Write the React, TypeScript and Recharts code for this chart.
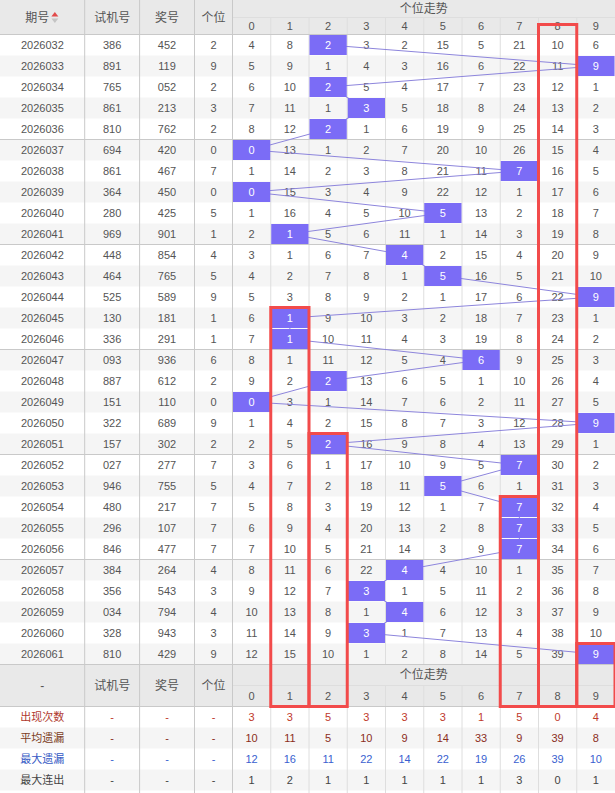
import { ScatterChart, XAxis, YAxis, Scatter, ReferenceArea, ReferenceLine } from "recharts";

const periods = [
  "2026032", "2026033", "2026034", "2026035", "2026036", "2026037", "2026038", "2026039", "2026040", "2026041",
  "2026042", "2026043", "2026044", "2026045", "2026046", "2026047", "2026048", "2026049", "2026050", "2026051",
  "2026052", "2026053", "2026054", "2026055", "2026056", "2026057", "2026058", "2026059", "2026060", "2026061",
];
const trialNums = [
  "386", "891", "765", "861", "810", "694", "861", "364", "280", "969",
  "448", "464", "525", "130", "336", "093", "887", "151", "322", "157",
  "027", "946", "480", "296", "846", "384", "356", "034", "328", "810",
];
const drawNums = [
  "452", "119", "052", "213", "762", "420", "467", "450", "425", "901",
  "854", "765", "589", "181", "291", "936", "612", "110", "689", "302",
  "277", "755", "217", "107", "477", "264", "543", "794", "943", "429",
];
const unitDigits = [2, 9, 2, 3, 2, 0, 7, 0, 5, 1, 4, 5, 9, 1, 1, 6, 2, 0, 9, 2, 7, 5, 7, 7, 7, 4, 3, 4, 3, 9];
// missing counts per digit 0-9 (the hit cell shows the digit itself)
const missRows = [
  [4, 8, 2, 3, 2, 15, 5, 21, 10, 6],
  [5, 9, 1, 4, 3, 16, 6, 22, 11, 9],
  [6, 10, 2, 5, 4, 17, 7, 23, 12, 1],
  [7, 11, 1, 3, 5, 18, 8, 24, 13, 2],
  [8, 12, 2, 1, 6, 19, 9, 25, 14, 3],
  [0, 13, 1, 2, 7, 20, 10, 26, 15, 4],
  [1, 14, 2, 3, 8, 21, 11, 7, 16, 5],
  [0, 15, 3, 4, 9, 22, 12, 1, 17, 6],
  [1, 16, 4, 5, 10, 5, 13, 2, 18, 7],
  [2, 1, 5, 6, 11, 1, 14, 3, 19, 8],
  [3, 1, 6, 7, 4, 2, 15, 4, 20, 9],
  [4, 2, 7, 8, 1, 5, 16, 5, 21, 10],
  [5, 3, 8, 9, 2, 1, 17, 6, 22, 9],
  [6, 1, 9, 10, 3, 2, 18, 7, 23, 1],
  [7, 1, 10, 11, 4, 3, 19, 8, 24, 2],
  [8, 1, 11, 12, 5, 4, 6, 9, 25, 3],
  [9, 2, 2, 13, 6, 5, 1, 10, 26, 4],
  [0, 3, 1, 14, 7, 6, 2, 11, 27, 5],
  [1, 4, 2, 15, 8, 7, 3, 12, 28, 9],
  [2, 5, 2, 16, 9, 8, 4, 13, 29, 1],
  [3, 6, 1, 17, 10, 9, 5, 7, 30, 2],
  [4, 7, 2, 18, 11, 5, 6, 1, 31, 3],
  [5, 8, 3, 19, 12, 1, 7, 7, 32, 4],
  [6, 9, 4, 20, 13, 2, 8, 7, 33, 5],
  [7, 10, 5, 21, 14, 3, 9, 7, 34, 6],
  [8, 11, 6, 22, 4, 4, 10, 1, 35, 7],
  [9, 12, 7, 3, 1, 5, 11, 2, 36, 8],
  [10, 13, 8, 1, 4, 6, 12, 3, 37, 9],
  [11, 14, 9, 3, 1, 7, 13, 4, 38, 10],
  [12, 15, 10, 1, 2, 8, 14, 5, 39, 9],
];
const digits = [0, 1, 2, 3, 4, 5, 6, 7, 8, 9];
const headLabels = ["期号", "试机号", "奖号", "个位"];
const footLabels = ["-", "试机号", "奖号", "个位"];
const trendTitle = "个位走势";
const statLabels = ["出现次数", "平均遗漏", "最大遗漏", "最大连出"];
const appearCount = [3, 3, 5, 3, 3, 3, 1, 5, 0, 4];
const avgMiss = [10, 11, 5, 10, 9, 14, 33, 9, 39, 8];
const maxMiss = [12, 16, 11, 22, 14, 22, 19, 26, 39, 10];
const maxStreak = [1, 2, 1, 1, 1, 1, 1, 3, 0, 1];
const redBoxDigits = [8, 1, 2, 7, 9];
const redBoxFrom = ["header", "2026045", "2026051", "2026054", "2026061"];

// ---- layout ----
const W = 615;
const H = 793;
const COL_W = 38.25;
const TREND_LEFT = 232.5;
const ROW_H = 21;
const BODY_TOP = 34.5;
const LEFT_EDGES = [0, 84.7, 139.6, 194.5, 232.5];
const FONT = "'Liberation Sans', Arial, 'Noto Sans CJK SC', sans-serif";
const TEXT = "#555";
const LINE_DARK = "#c9c9c9";
const LINE_LIGHT = "#dedede";
const HEAD_BG = "#e9e9e9";
const STRIPE = "#f5f5f5";
const HIT = "#7b6cf6";
const RED = "#f24b4b";
const statColors = ["#b03a2e", "#7a3b22", "#3458c4", "#444"];
const statValueColors = ["#c0392b", "#8b2e1c", "#3a5fd0", "#444"];

const xu = (px: number) => (px - TREND_LEFT) / COL_W - 0.5;
const yu = (py: number) => (py - BODY_TOP) / ROW_H - 0.5;
const X_MIN = xu(0);
const X_MAX = xu(W);
const Y_MIN = yu(0);
const Y_MAX = yu(H);
const leftCenters = LEFT_EDGES.slice(0, 4).map((e, i) => xu((e + LEFT_EDGES[i + 1]) / 2));
const HEAD_MID = yu(17.5);
const HEAD_TITLE = yu(9);
const HEAD_DIGITS = yu(26);
const N = periods.length;
const FOOT_TITLE = N;
const FOOT_DIGITS = N + 1;
const STAT0 = N + 2;

type Cell = { x: number; y: number; text: string; color?: string; size?: number; sort?: boolean };

const cells: Cell[] = [];
headLabels.forEach((t, i) => cells.push({ x: leftCenters[i], y: HEAD_MID, text: t, size: 12, sort: i === 0 }));
cells.push({ x: 4.5, y: HEAD_TITLE, text: trendTitle, size: 12 });
digits.forEach((d) => cells.push({ x: d, y: HEAD_DIGITS, text: String(d) }));
periods.forEach((p, i) => {
  cells.push({ x: leftCenters[0], y: i, text: p });
  cells.push({ x: leftCenters[1], y: i, text: trialNums[i] });
  cells.push({ x: leftCenters[2], y: i, text: drawNums[i] });
  cells.push({ x: leftCenters[3], y: i, text: String(unitDigits[i]) });
  missRows[i].forEach((v, d) => {
    if (d !== unitDigits[i]) cells.push({ x: d, y: i, text: String(v) });
  });
});
footLabels.forEach((t, i) => cells.push({ x: leftCenters[i], y: FOOT_TITLE + 0.5, text: t, size: 12 }));
cells.push({ x: 4.5, y: FOOT_TITLE, text: trendTitle, size: 12 });
digits.forEach((d) => cells.push({ x: d, y: FOOT_DIGITS, text: String(d) }));
[appearCount, avgMiss, maxMiss, maxStreak].forEach((arr, k) => {
  const y = STAT0 + k;
  cells.push({ x: leftCenters[0], y, text: statLabels[k], color: statColors[k], size: 11 });
  for (let c = 1; c < 4; c++) cells.push({ x: leftCenters[c], y, text: "-", color: statValueColors[k] });
  arr.forEach((v, d) => cells.push({ x: d, y, text: String(v), color: statValueColors[k] }));
});

const hits = unitDigits.map((d, i) => ({ x: d, y: i, text: String(d) }));

const stripes: number[] = [];
for (let i = 1; i < N; i += 2) stripes.push(i);
stripes.push(STAT0 + 1, STAT0 + 3);

const TextCell = (p: any) => {
  const d: Cell = p.payload;
  return (
    <g>
      <text
        x={d.sort ? p.cx - 5 : p.cx}
        y={p.cy}
        textAnchor="middle"
        dominantBaseline="central"
        fontSize={d.size ?? 11}
        fill={d.color ?? TEXT}
        fontFamily={FONT}
      >
        {d.text}
      </text>
      {d.sort && (
        <>
          <path d={`M${p.cx + 9},${p.cy - 1} l3.5,-4.5 l3.5,4.5 z`} fill="#e24a4a" />
          <path d={`M${p.cx + 9},${p.cy + 1} l3.5,4.5 l3.5,-4.5 z`} fill="#c4c4c4" />
        </>
      )}
    </g>
  );
};

const HitCell = (p: any) => (
  <g>
    <rect x={p.cx - COL_W / 2 + 0.5} y={p.cy - ROW_H / 2 + 0.5} width={COL_W - 1} height={ROW_H - 1} fill={HIT} />
    <text x={p.cx} y={p.cy} textAnchor="middle" dominantBaseline="central" fontSize={11} fill="#fff" fontFamily={FONT}>
      {p.payload.text}
    </text>
  </g>
);

const boxTop = (from: string) => (from === "header" ? yu(24.5) : periods.indexOf(from) - 0.5);

export default function App() {
  const trendBounds = digits.slice(0, 9).map((d) => d + 0.5);
  const groupLines = [4.5, 9.5, 14.5, 19.5, 24.5];
  return (
    <div style={{ position: "absolute", left: 0, top: 0, background: "#fff" }}>
      <ScatterChart width={W} height={H} margin={{ top: 0, right: 0, bottom: 0, left: 0 }}>
        <XAxis type="number" dataKey="x" domain={[X_MIN, X_MAX]} allowDataOverflow hide />
        <YAxis type="number" dataKey="y" domain={[Y_MIN, Y_MAX]} allowDataOverflow reversed hide />

        <ReferenceArea x1={X_MIN} x2={X_MAX} y1={Y_MIN} y2={-0.5} fill={HEAD_BG} fillOpacity={1} ifOverflow="visible" />
        <ReferenceArea x1={X_MIN} x2={X_MAX} y1={N - 0.5} y2={N + 1.5} fill={HEAD_BG} fillOpacity={1} ifOverflow="visible" />
        {stripes.map((r) => (
          <ReferenceArea key={`s${r}`} x1={X_MIN} x2={X_MAX} y1={r - 0.5} y2={r + 0.5} fill={STRIPE} fillOpacity={1} ifOverflow="visible" />
        ))}

        {trendBounds.map((x) => (
          <ReferenceLine key={`tv${x}`} segment={[{ x, y: HEAD_MID }, { x, y: N - 0.5 }]} stroke={LINE_LIGHT} ifOverflow="visible" />
        ))}
        {trendBounds.map((x) => (
          <ReferenceLine key={`fv${x}`} segment={[{ x, y: N + 0.5 }, { x, y: Y_MAX }]} stroke={LINE_LIGHT} ifOverflow="visible" />
        ))}
        <ReferenceLine segment={[{ x: -0.5, y: HEAD_MID }, { x: X_MAX, y: HEAD_MID }]} stroke={LINE_LIGHT} ifOverflow="visible" />
        <ReferenceLine segment={[{ x: -0.5, y: N + 0.5 }, { x: X_MAX, y: N + 0.5 }]} stroke={LINE_LIGHT} ifOverflow="visible" />
        {[-0.5, ...groupLines, N - 0.5, N + 1.5].map((y) => (
          <ReferenceLine key={`h${y}`} segment={[{ x: X_MIN, y }, { x: X_MAX, y }]} stroke={LINE_DARK} ifOverflow="visible" />
        ))}
        {LEFT_EDGES.slice(1).map((px) => (
          <ReferenceLine key={`lv${px}`} segment={[{ x: xu(px), y: Y_MIN }, { x: xu(px), y: Y_MAX }]} stroke={LINE_DARK} ifOverflow="visible" />
        ))}

        <Scatter data={cells} shape={TextCell} isAnimationActive={false} />
        <Scatter
          data={hits}
          shape={HitCell}
          line={{ stroke: "#8d85dc", strokeWidth: 1 }}
          lineType="joint"
          isAnimationActive={false}
          zIndex={700}
        />

        {redBoxDigits.map((d, i) => (
          <ReferenceArea
            key={`r${d}`}
            x1={d - 0.5}
            x2={d + 0.5}
            y1={boxTop(redBoxFrom[i])}
            y2={N + 1.5}
            fill="none"
            stroke={RED}
            strokeWidth={3}
            ifOverflow="visible"
            zIndex={1500}
          />
        ))}
      </ScatterChart>
    </div>
  );
}
